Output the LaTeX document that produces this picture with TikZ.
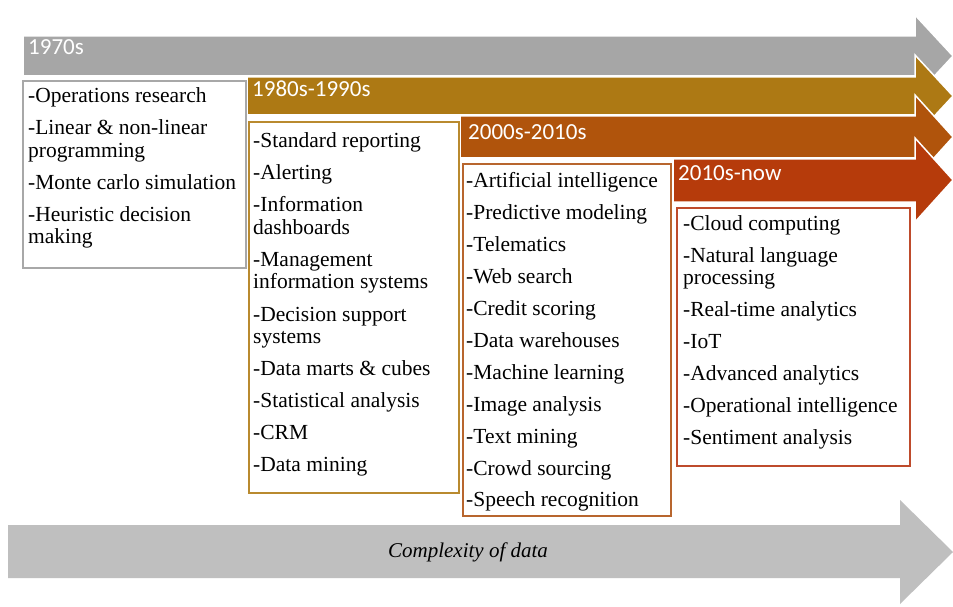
\documentclass[tikz,border=0pt]{standalone}
\usepackage{fontspec}
\setmainfont{Liberation Serif}
\newfontfamily\hdfont{Carlito}

\definecolor{eraGray}{HTML}{A6A6A6}
\definecolor{eraGold}{HTML}{AD7914}
\definecolor{eraOrange}{HTML}{B0540C}
\definecolor{eraRed}{HTML}{B63B0B}
\definecolor{lineGray}{HTML}{A8A8A8}
\definecolor{lineGold}{HTML}{B98A2F}
\definecolor{lineOrange}{HTML}{B8662E}
\definecolor{lineRed}{HTML}{BE4B2C}
\definecolor{axisGray}{HTML}{BFBFBF}

\begin{document}
\begin{tikzpicture}[x=1pt,y=-1pt,
  era/.style={draw=white, line width=1.5pt, line join=miter},
  erabox/.style={draw, line width=1.8pt, fill=white, anchor=north west, inner sep=0pt},
  eralabel/.style={anchor=base west, inner sep=0pt, text=white,
    font=\hdfont\fontsize{23}{23}\selectfont},
  listtext/.style={anchor=base west, inner sep=0pt,
    font=\fontsize{21.5}{22.5}\selectfont},
]
\useasboundingbox[fill=white] (0,0) rectangle (953,607);

% period arrows, oldest first so that later ones overlap
\path[era, fill=eraGray]
  (23,36) -- (915,36) -- (915,15) -- (953,56) -- (915,97) -- (915,76) -- (23,76) -- cycle;
\path[era, fill=eraGold]
  (247,77) -- (915,77) -- (915,55) -- (953,96) -- (915,137) -- (915,115) -- (247,115) -- cycle;
\path[era, fill=eraOrange]
  (460,116) -- (915,116) -- (915,95) -- (953,137) -- (915,179) -- (915,158) -- (460,158) -- cycle;
\path[era, fill=eraRed]
  (673,159) -- (915,159) -- (915,138) -- (953,180) -- (915,222) -- (915,202) -- (673,202) -- cycle;

\node[eralabel] (h1) at (28,55) {1970s};
\node[eralabel] (h2) at (252,97) {1980s-1990s};
\node[eralabel] (h3) at (468,140) {2000s-2010s};
\node[eralabel] (h4) at (678,180) {2010s-now};

% boxes of methods
\node[erabox, draw=lineGray, minimum width=223, minimum height=187] (b1) at (22,80) {};
\node[erabox, draw=lineGold, minimum width=210, minimum height=371] (b2) at (248,121) {};
\node[erabox, draw=lineOrange, minimum width=208, minimum height=352] (b3) at (462,163) {};
\node[erabox, draw=lineRed, minimum width=233, minimum height=258] (b4) at (676,207) {};

\node[listtext] (t1) at (28,103) {\parbox[t]{260pt}{\raggedright
  -Operations research\\[9.5pt]
  -Linear \& non-linear\\ programming\\[9.5pt]
  -Monte carlo simulation\\[9.5pt]
  -Heuristic decision\\ making}};

\node[listtext] (t2) at (253,148) {\parbox[t]{260pt}{\raggedright
  -Standard reporting\\[9.5pt]
  -Alerting\\[9.5pt]
  -Information\\ dashboards\\[9.5pt]
  -Management\\ information systems\\[9.5pt]
  -Decision support\\ systems\\[9.5pt]
  -Data marts \& cubes\\[9.5pt]
  -Statistical analysis\\[9.5pt]
  -CRM\\[9.5pt]
  -Data mining}};

\node[listtext] (t3) at (466,187) {\parbox[t]{260pt}{\raggedright
  -Artificial intelligence\\[9.5pt]
  -Predictive modeling\\[9.5pt]
  -Telematics\\[9.5pt]
  -Web search\\[9.5pt]
  -Credit scoring\\[9.5pt]
  -Data warehouses\\[9.5pt]
  -Machine learning\\[9.5pt]
  -Image analysis\\[9.5pt]
  -Text mining\\[9.5pt]
  -Crowd sourcing\\[9.5pt]
  -Speech recognition}};

\node[listtext] (t4) at (683,230) {\parbox[t]{260pt}{\raggedright
  -Cloud computing\\[9.5pt]
  -Natural language\\ processing\\[9.5pt]
  -Real-time analytics\\[9.5pt]
  -IoT\\[9.5pt]
  -Advanced analytics\\[9.5pt]
  -Operational intelligence\\[9.5pt]
  -Sentiment analysis}};

% axis arrow along the bottom
\fill[axisGray]
  (8,525) -- (900,525) -- (900,500) -- (953,552) -- (900,604) -- (900,578) -- (8,578) -- cycle;
\node[font=\itshape\fontsize{21}{21}\selectfont, inner sep=0pt] (axis) at (468,552) {Complexity of data};
\end{tikzpicture}
\end{document}
